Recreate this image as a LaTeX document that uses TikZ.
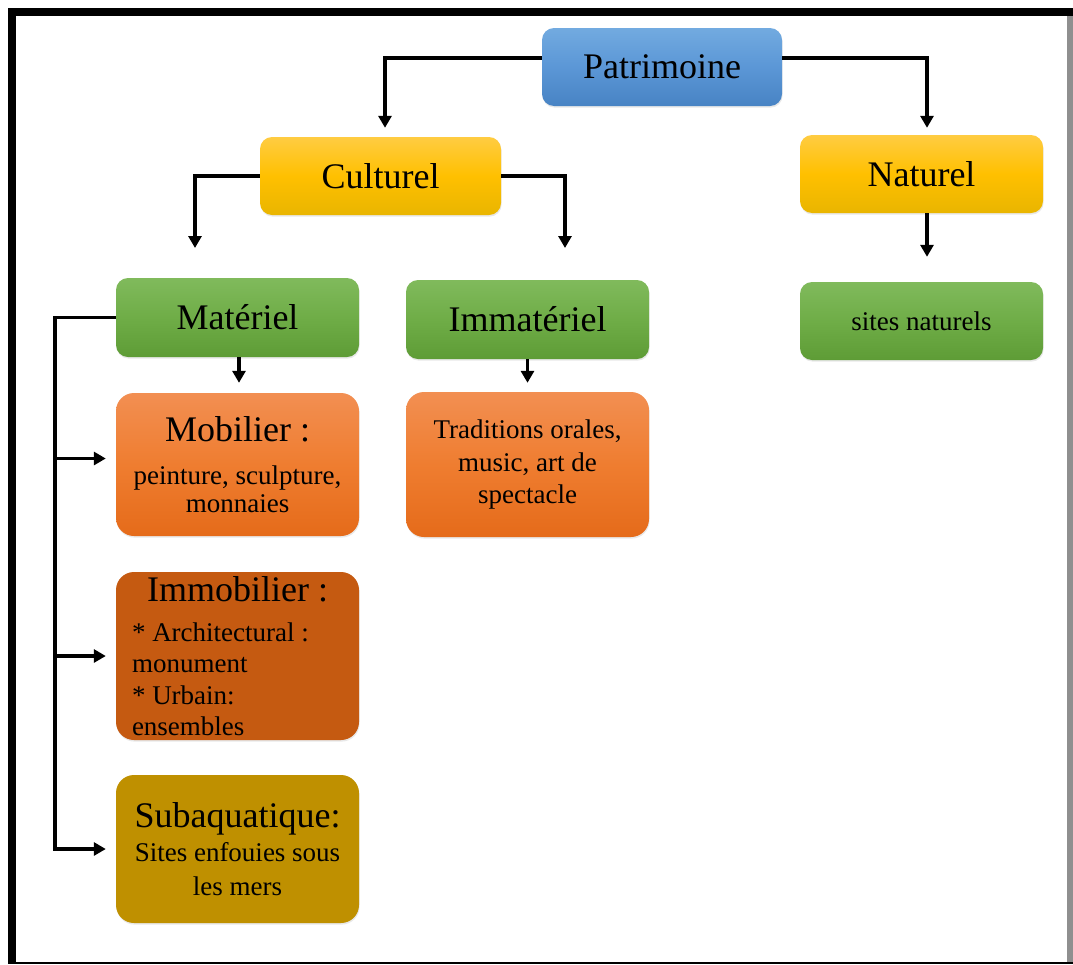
\documentclass[tikz,border=0pt]{standalone}
\usepackage{fontspec}
\setmainfont{Liberation Serif}
\usetikzlibrary{arrows.meta,calc,shadows}
\definecolor{blueT}{HTML}{72AAE0}
\definecolor{blueM}{HTML}{5B97D6}
\definecolor{blueB}{HTML}{4883C4}
\definecolor{yelT}{HTML}{FFCC42}
\definecolor{yelM}{HTML}{FFC000}
\definecolor{yelB}{HTML}{E9B500}
\definecolor{grnT}{HTML}{80BA5C}
\definecolor{grnM}{HTML}{6FAD47}
\definecolor{grnB}{HTML}{5E9C36}
\definecolor{orT}{HTML}{F28F52}
\definecolor{orM}{HTML}{EF7D30}
\definecolor{orB}{HTML}{E56B1A}
\definecolor{immo}{HTML}{C55A11}
\definecolor{suba}{HTML}{BF9000}
\definecolor{framegray}{HTML}{8F8F8F}
\begin{document}
\begin{tikzpicture}[x=1pt,y=-1pt,
  box/.style={rounded corners=12pt, minimum width=243pt, minimum height=78pt,
    inner sep=0pt, align=center, font=\fontsize{36}{40}\selectfont,
    drop shadow={opacity=0.18, shadow xshift=0.6pt, shadow yshift=-1.6pt}},
  bluebox/.style={box, top color=blueT, bottom color=blueB, middle color=blueM},
  yelbox/.style={box, top color=yelT, bottom color=yelB, middle color=yelM},
  grnbox/.style={box, top color=grnT, bottom color=grnB, middle color=grnM},
  orbox/.style={box, rounded corners=18pt, top color=orT, bottom color=orB, middle color=orM},
  immobox/.style={box, rounded corners=18pt, fill=immo},
  subabox/.style={box, rounded corners=18pt, fill=suba},
  conn/.style={line width=3.2pt, -{Triangle[width=13pt,length=12pt]}}
]
% page and frame
\fill[white] (0,0) rectangle (1073,964);
\fill[black] (8,8) rectangle (1073,16);
\fill[black] (8,8) rectangle (16,964);
\fill[black] (8,962) rectangle (1073,964);
\fill[framegray] (1067,16) rectangle (1073,962);

% nodes
\node[bluebox, minimum width=240pt] (pat) at (662,67) {Patrimoine};
\node[yelbox, minimum width=241pt] (cult) at (380.5,176) {Culturel};
\node[yelbox] (nat) at (921.5,174) {Naturel};
\node[grnbox, font=\fontsize{27}{30}\selectfont] (sites) at (921.5,321) {sites naturels};
\node[grnbox, minimum height=79pt] (mat) at (237.5,317.5) {Mat\'eriel};
\node[grnbox, minimum height=79pt] (immat) at (527.5,319.5) {Immat\'eriel};
\node[orbox, minimum height=143pt, font=\fontsize{27}{28}\selectfont] (mob) at (237.5,464.5)
  {{\fontsize{36}{36}\selectfont Mobilier :}\\[15pt] peinture, sculpture,\\ monnaies};
\node[orbox, minimum height=145pt, font=\fontsize{27}{32.5}\selectfont] (trad) at (527.5,464.5)
  {Traditions orales,\\ music, art de\\ spectacle};
\node[immobox, minimum height=168pt, text width=211pt, align=none] (immob) at (237.5,656)
  {\centering\fontsize{36}{36}\selectfont Immobilier :\par
   \vskip 8.5pt
   \raggedright\fontsize{27}{31.5}\selectfont {*} Architectural :\\ monument\\ {*} Urbain:\\ ensembles\par};
\node[subabox, minimum height=148pt, font=\fontsize{27}{34}\selectfont] (sub) at (237.5,849)
  {{\fontsize{36}{36}\selectfont Subaquatique:}\\ Sites enfouies sous\\ les mers};

% connectors
\coordinate (c1) at (195,248);
\coordinate (c2) at (565,248);
\coordinate (bus) at (55,318);
\coordinate (mobin) at ([yshift=6pt]mob.west);

\draw[conn, shorten >=9pt] ([yshift=9pt]pat.west) -| ([xshift=4.5pt]cult.north);
\draw[conn, shorten >=7pt] ([yshift=9pt]pat.east) -| ([xshift=5.5pt]nat.north);
\draw[conn] (cult.west) -| (c1);
\draw[conn] (cult.east) -| (c2);
\draw[conn, shorten >=25pt] ([xshift=5.5pt]nat.south) -- ([xshift=5.5pt]sites.north);
\draw[conn, shorten >=10pt] ([xshift=1.5pt]mat.south) -- ([xshift=1.5pt]mob.north);
\draw[conn, shorten >=9pt] (immat.south) -- (trad.north);
\draw[conn, shorten >=10pt] (mat.west) -| (bus |- sub.west) -- (sub.west);
\draw[conn, shorten >=10pt] (bus |- mobin) -- (mobin);
\draw[conn, shorten >=10pt] (bus |- immob.west) -- (immob.west);
\end{tikzpicture}
\end{document}
